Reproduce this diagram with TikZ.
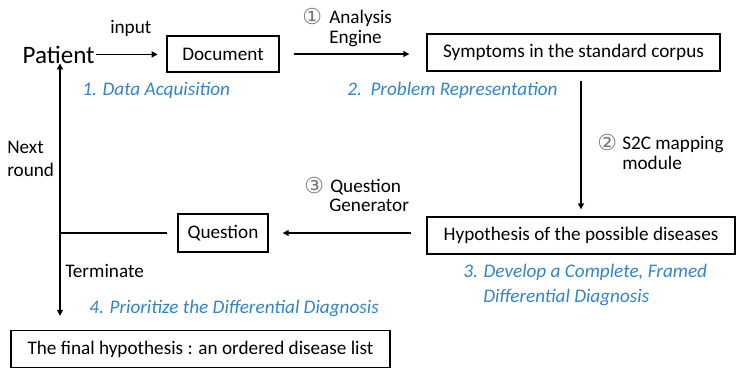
\documentclass[tikz,border=0pt]{standalone}
\usepackage{fontspec}
\setmainfont{Carlito}
\newfontfamily\circfont{DejaVu Sans}
\usetikzlibrary{arrows.meta}
\definecolor{labblue}{RGB}{52,132,200}
\definecolor{circgray}{RGB}{120,120,120}
\tikzset{
  box/.style={draw, line width=1pt, inner sep=0pt, font=\fontsize{14.4}{16}\selectfont},
  arr/.style={line width=1pt, -{Triangle[length=4.5pt,width=4.5pt]}},
  plain/.style={line width=1pt},
  lab/.style={inner sep=0pt, anchor=base west, font=\fontsize{14.4}{16}\selectfont},
  blab/.style={lab, text=labblue, font=\fontsize{14.4}{16}\selectfont\itshape},
  circ/.style={inner sep=0pt, anchor=base west, text=circgray, font=\fontsize{16.5}{18}\circfont},
}
\begin{document}
\begin{tikzpicture}[x=0.75pt,y=-0.75pt]
\path[fill=white] (0,0) rectangle (736,368);
\useasboundingbox (0,0) rectangle (736,368);

% nodes
\node[inner sep=1pt, anchor=base west, font=\fontsize{18.8}{20}\selectfont] (patient) at (21,63) {Patient};
\node[box, minimum width=84pt, minimum height=27pt] (doc) at (223,54) {Document};
\node[box, minimum width=219.75pt, minimum height=27.75pt] (sym) at (573.5,52.5) {Symptoms in the standard corpus};
\node[box, minimum width=231pt, minimum height=27.75pt] (hyp) at (581,235.5) {Hypothesis of the possible diseases};
\node[box, minimum width=67.5pt, minimum height=28.5pt] (q) at (223,233) {Question};
\node[box, minimum width=284.25pt, minimum height=27.75pt] (final) at (200.5,349) {The final hypothesis : an ordered disease list};
\coordinate (j) at (60,233);

% connectors
\draw[arr, shorten >=6.5pt] (patient.east) -- (doc.west |- patient.east);
\draw[arr, shorten <=10.5pt, shorten >=12.75pt] (doc.east) -- (sym.west |- doc.east);
\draw[arr, shorten <=6.75pt, shorten >=5.25pt] (sym.south -| hyp.north) -- (hyp.north);
\draw[arr, shorten <=11.25pt, shorten >=10.5pt] (hyp.west |- q.east) -- (q.east);
\draw[plain, shorten <=7.5pt] (q.west) -- (j);
\draw[arr, shorten >=-1pt] (j) -- (j |- patient.south);
\draw[arr, shorten >=10.5pt] (j) -- (j |- final.north);

% labels
\node[lab] (inp) at (110,33) {input};
\node[circ] (c1) at (302,24) {①};
\node[lab] (ana) at (329,23) {Analysis};
\node[lab] (eng) at (329,43) {Engine};
\node[circ] (c2) at (597,150) {②};
\node[lab] (s2c) at (622,149) {S2C mapping};
\node[lab] (mod) at (622,169) {module};
\node[circ] (c3) at (304,193) {③};
\node[lab] (qu) at (330,192) {Question};
\node[lab] (gen) at (329,211) {Generator};
\node[lab] (next) at (7,153) {Next};
\node[lab] (round) at (7,176) {round};
\node[lab] (term) at (65,277) {Terminate};

\node[blab] (b1) at (82,95) {1. Data Acquisition};
\node[blab] (b2) at (347,95) {2.\ \ Problem Representation};
\node[blab] (b3) at (463,277) {3. Develop a Complete, Framed};
\node[blab] (b3b) at (483,302) {Differential Diagnosis};
\node[blab] (b4) at (89,313) {4. Prioritize the Differential Diagnosis};
\end{tikzpicture}
\end{document}
